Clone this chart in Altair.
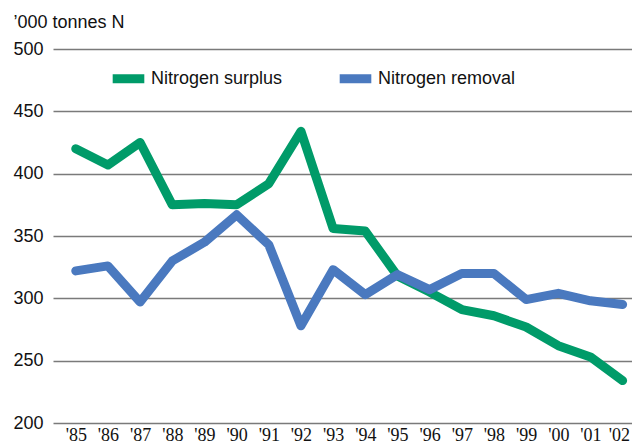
import altair as alt
import pandas as pd

years = ["'85", "'86", "'87", "'88", "'89", "'90", "'91", "'92", "'93",
         "'94", "'95", "'96", "'97", "'98", "'99", "'00", "'01", "'02"]
surplus = [420, 407, 425, 375, 376, 375, 392, 434, 356,
           354, 318, 305, 291, 286, 277, 262, 253, 234]
removal = [322, 326, 297, 330, 345, 367, 343, 278, 323,
           303, 319, 307, 320, 320, 299, 304, 298, 295]
series = ["Nitrogen surplus", "Nitrogen removal"]
colors = ["#009B69", "#4A79BF"]
y_ticks = [200, 250, 300, 350, 400, 450, 500]

rows = []
for name, vals in zip(series, [surplus, removal]):
    for i, (yr, v) in enumerate(zip(years, vals)):
        rows.append({"year": yr, "value": v, "series": name, "idx": i})
df = pd.DataFrame(rows)

FONT = "Liberation Sans"
NARROW = "Liberation Sans Narrow"

chart = alt.Chart(df).mark_line(
    strokeWidth=9, strokeJoin="round", strokeCap="round"
).encode(
    x=alt.X("year:O", sort=years,
            scale=alt.Scale(type="point", paddingOuter=0.3675, align=0.708),
            axis=alt.Axis(title=None, labelAngle=0, ticks=False, domain=False,
                          grid=False, labelFont=NARROW, labelFontSize=18,
                          labelColor="#111", labelPadding=3,
                          labelFlush=10, labelFlushOffset=7)),
    y=alt.Y("value:Q", scale=alt.Scale(domain=[200, 500], nice=False, zero=False),
            axis=alt.Axis(values=y_ticks, title="\u2019000 tonnes N", titleAngle=0,
                          titleX=-40, titleY=-27, titleAlign="left",
                          titleBaseline="middle", titleFont=FONT,
                          titleFontSize=18, titleFontWeight="normal",
                          titleColor="#111",
                          ticks=False, domain=False, grid=True,
                          gridColor="#7a7a7a", gridWidth=1.6,
                          labelFont=FONT, labelFontSize=18, labelColor="#111",
                          labelPadding=10)),
    color=alt.Color("series:N", sort=series,
                    scale=alt.Scale(domain=series, range=colors),
                    legend=alt.Legend(title=None, orient="none", legendX=55,
                                      legendY=9, direction="horizontal",
                                      symbolType="stroke", symbolStrokeWidth=9,
                                      symbolSize=1000, labelFont=FONT,
                                      labelFontSize=18, labelColor="#111",
                                      columnPadding=38, labelOffset=2,
                                      padding=0)),
    order=alt.Order("idx:Q"),
).properties(
    width=579, height=374,
    autosize=alt.AutoSizeParams(type="none"),
    padding={"left": 45, "top": 41, "right": 0, "bottom": 21},
).configure_view(stroke=None)

chart.save("out.html", embed_options={"renderer": "svg", "actions": False})
